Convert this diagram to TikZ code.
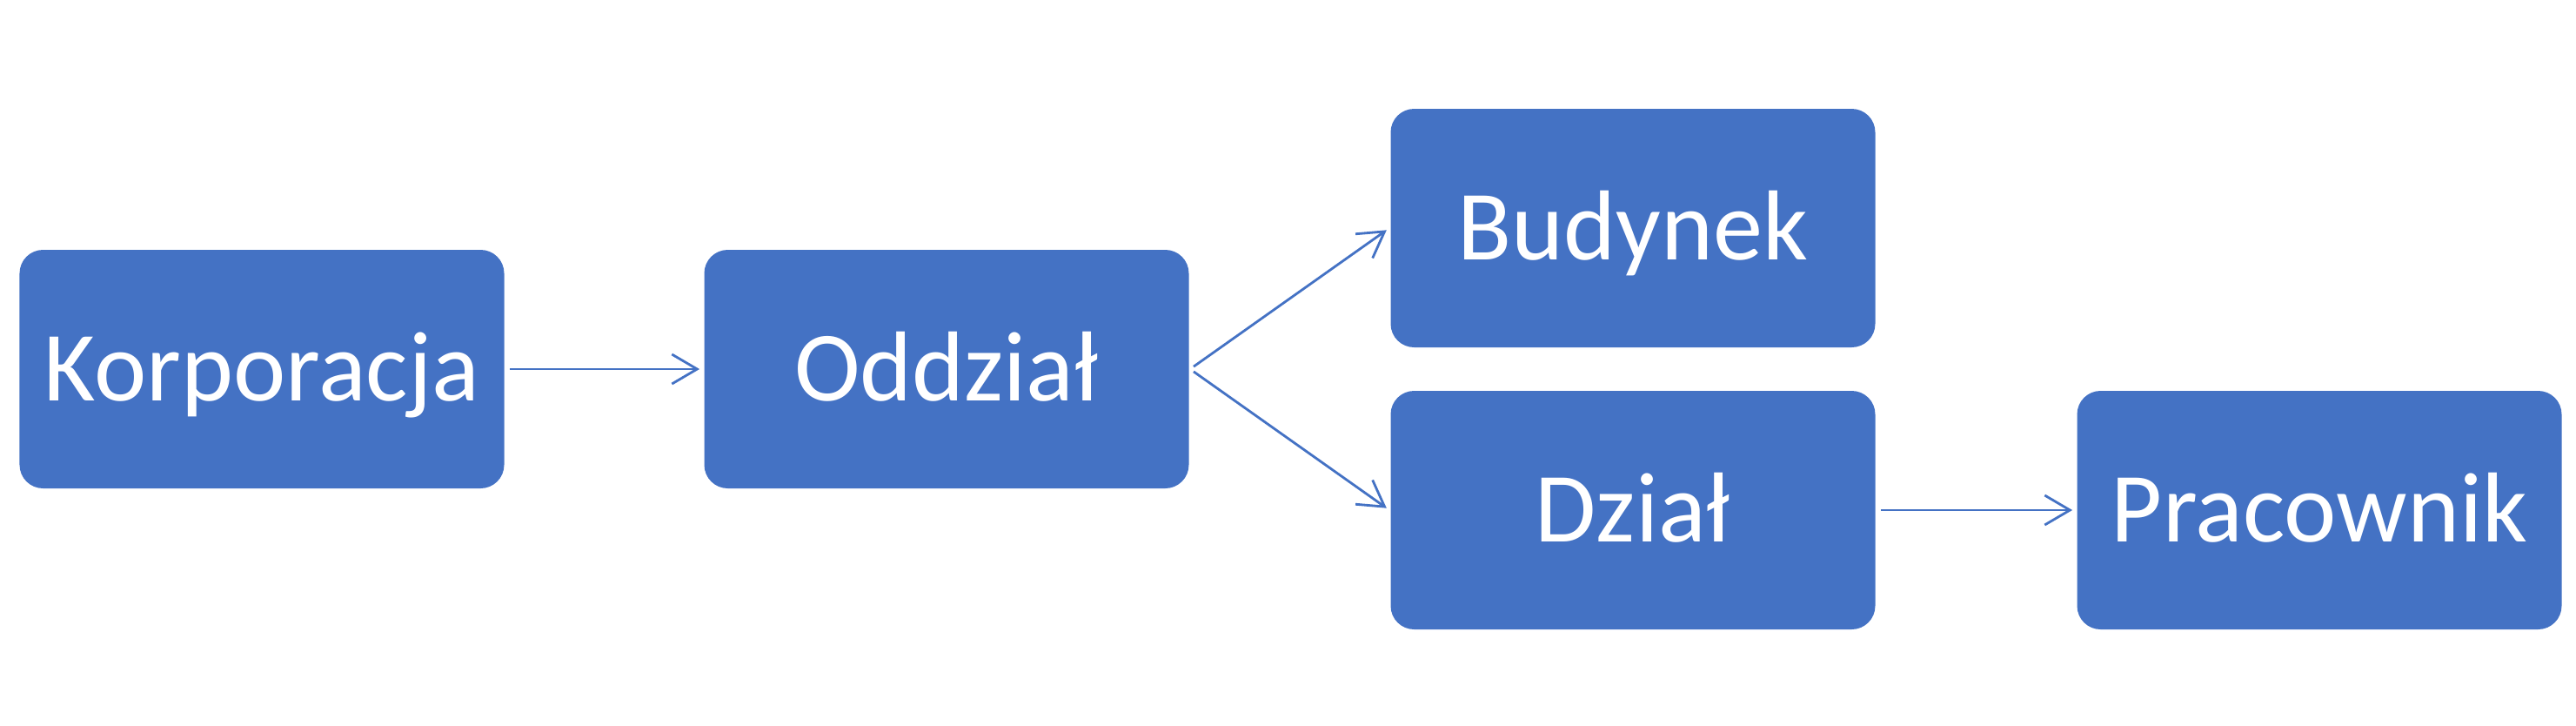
\documentclass[tikz,border=0pt]{standalone}
\usepackage{fontspec}
\setmainfont{Carlito}
\usetikzlibrary{shapes,arrows.meta}
\definecolor{boxblue}{HTML}{4472C4}

\begin{document}
\begin{tikzpicture}[thick]
\tikzstyle{vertexr}=[rectangle, rounded corners=0.27cm, fill=boxblue, text=white, minimum width=5.57cm, minimum height=2.74cm, inner sep=0pt, text height=0.72cm, text depth=0pt, font=\fontsize{32.5}{39}\selectfont]
\tikzstyle{drawstyle}=[line width=0.8pt, draw=boxblue, -{Straight Barb[length=0.29cm, width=0.34cm]}, shorten <=0.05cm, shorten >=0.04cm]
\useasboundingbox (0,0) rectangle (29.61,8.33);

\node[vertexr] (N0x0) at (3.01,4.09) {Korporacja};
\node[vertexr] (N1x0) at (10.88,4.09) {Oddział};
\draw[drawstyle] (N0x0.east) -- (N1x0.west);
\node[vertexr] (N2x0) at (18.77,5.71) {Budynek};
\node[vertexr] (N2x1) at (18.77,2.47) {Dział};
\draw[drawstyle] (N1x0.east) -- (N2x0.west);
\draw[drawstyle] (N1x0.east) -- (N2x1.west);
\node[vertexr] (N3x1) at (26.66,2.47) {Pracownik};
\draw[drawstyle] (N2x1.east) -- (N3x1.west);
\end{tikzpicture}
\end{document}
